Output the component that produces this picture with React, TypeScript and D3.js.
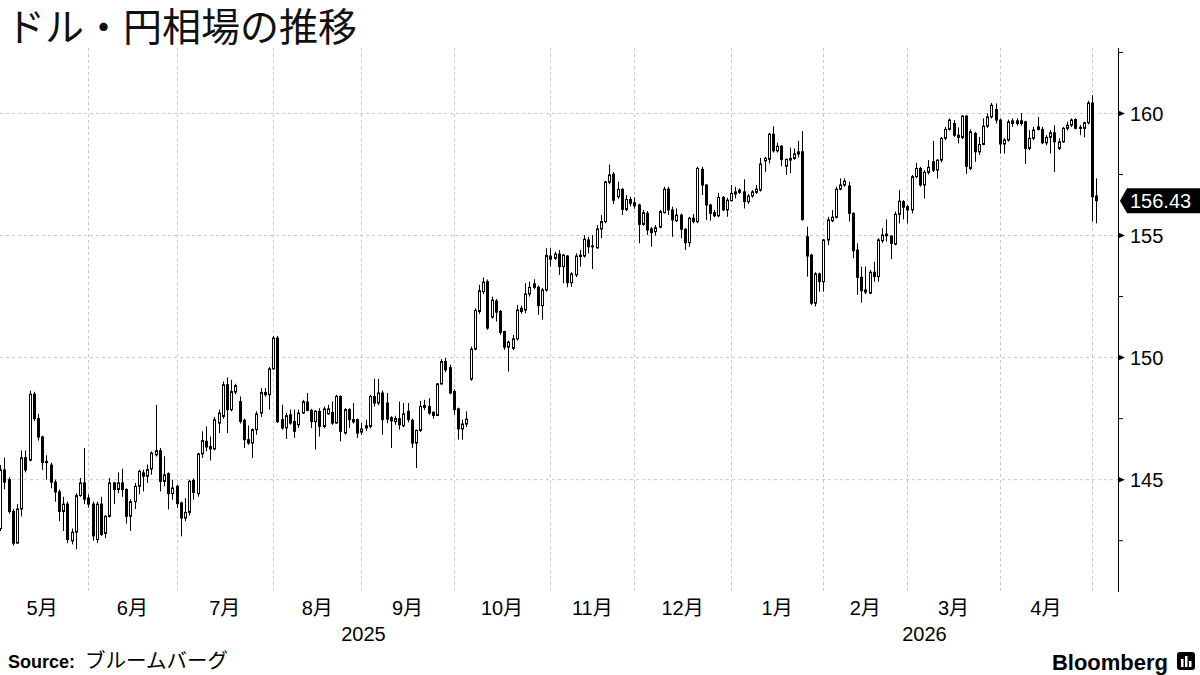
import React from "react";
import * as d3 from "d3";

// one row per trading day: [open, high, low, close]
const may2025 = [
  [143.0, 145.6, 142.9, 145.4], [145.4, 145.9, 144.6, 144.9], [145.0, 145.1, 143.6, 143.7],
  [143.7, 143.8, 142.3, 142.4], [142.4, 144.0, 142.4, 143.8], [143.8, 146.2, 143.5, 145.9],
  [145.9, 146.2, 145.3, 145.4], [145.8, 148.65, 145.75, 148.5], [148.5, 148.6, 147.4, 147.5],
  [147.5, 147.7, 146.6, 146.75], [146.75, 146.8, 145.4, 145.7], [145.75, 146.0, 145.0, 145.7],
  [145.6, 145.7, 144.65, 144.9], [144.9, 145.0, 144.1, 144.5], [144.5, 144.6, 143.3, 143.7],
  [143.7, 144.3, 142.9, 144.0], [144.0, 144.1, 142.4, 142.55], [142.5, 143.0, 142.35, 142.85],
  [142.85, 144.45, 142.15, 144.35], [144.35, 145.07, 144.3, 144.87], [144.87, 146.3, 144.0, 144.2],
];
const jun2025 = [
  [144.25, 144.4, 143.85, 144.0], [144.0, 144.1, 142.5, 142.7], [142.55, 144.1, 142.4, 144.0],
  [144.0, 144.3, 142.7, 142.75], [142.8, 143.55, 142.6, 143.5], [143.5, 145.07, 143.45, 144.87],
  [144.87, 144.9, 144.0, 144.6], [144.6, 145.3, 144.45, 144.87], [144.87, 145.45, 144.3, 144.6],
  [144.6, 144.65, 143.2, 143.5], [143.5, 144.2, 142.9, 144.1], [144.1, 144.87, 143.8, 144.73],
  [144.73, 145.41, 144.4, 145.34], [145.28, 145.41, 144.52, 145.14], [145.14, 145.62, 144.87, 145.41],
  [145.44, 146.16, 145.2, 146.09], [146.02, 148.07, 145.95, 146.19], [146.19, 146.3, 144.52, 144.93],
  [144.93, 145.96, 144.73, 145.2], [145.25, 145.3, 143.78, 144.43], [144.43, 145.0, 144.18, 144.66],
];
const jul2025 = [
  [144.73, 144.8, 143.84, 144.02], [144.05, 144.1, 142.68, 143.43], [143.43, 144.25, 143.3, 143.66],
  [143.66, 145.0, 143.53, 144.93], [144.97, 145.05, 144.18, 144.48], [144.43, 146.1, 144.3, 146.06],
  [146.06, 146.98, 145.89, 146.6], [146.57, 147.18, 146.16, 146.34], [146.36, 146.77, 145.79, 146.26],
  [146.26, 147.57, 146.2, 147.46], [147.32, 147.87, 146.91, 147.73], [147.59, 149.02, 147.5, 148.89],
  [148.89, 149.19, 146.91, 147.87], [147.87, 149.09, 147.8, 148.61], [148.59, 148.93, 148.5, 148.85],
  [148.2, 148.41, 147.3, 147.38], [147.43, 147.5, 146.3, 146.64], [146.64, 147.22, 146.43, 146.5],
  [146.5, 147.1, 145.89, 147.05], [147.05, 147.8, 146.84, 147.69], [147.73, 148.75, 147.57, 148.57],
  [148.57, 148.75, 148.4, 148.48], [148.48, 149.61, 147.87, 149.54],
];
const aug2025 = [
  [149.54, 150.89, 149.5, 150.8], [150.8, 150.89, 147.32, 147.38], [147.46, 148.07, 147.05, 147.12],
  [147.12, 147.73, 146.67, 147.62], [147.66, 147.87, 147.25, 147.32], [147.38, 147.87, 146.71, 146.98],
  [147.25, 147.87, 147.12, 147.73], [147.73, 148.27, 147.7, 148.2], [148.18, 148.55, 147.8, 147.84],
  [147.84, 147.9, 147.12, 147.38], [147.38, 147.85, 146.23, 147.8], [147.8, 147.93, 146.77, 147.18],
  [147.18, 148.0, 147.1, 147.9], [147.7, 148.07, 147.65, 147.9], [147.76, 148.2, 147.25, 147.32],
  [147.32, 148.48, 147.3, 148.41], [148.41, 148.45, 146.57, 146.98], [146.91, 147.93, 146.85, 147.87],
  [147.87, 147.93, 147.12, 147.46], [147.46, 148.14, 147.3, 147.37], [147.46, 147.5, 146.71, 146.91],
];
const sep2025 = [
  [146.95, 147.32, 146.84, 147.08], [147.12, 147.46, 147.0, 147.21], [147.18, 148.48, 147.1, 148.41],
  [148.41, 149.13, 148.0, 148.14], [148.14, 149.13, 148.05, 148.55], [148.55, 148.65, 146.84, 147.46],
  [148.14, 148.55, 147.32, 147.48], [147.55, 147.6, 146.3, 147.41], [147.38, 147.62, 147.25, 147.5],
  [147.5, 148.2, 147.05, 147.25], [147.21, 148.14, 147.15, 147.7], [147.8, 148.14, 147.35, 147.46],
  [147.43, 147.5, 146.3, 146.5], [146.5, 147.05, 145.48, 147.02], [147.02, 148.23, 146.95, 148.0],
  [147.96, 148.27, 147.85, 148.04], [148.0, 148.34, 147.66, 147.73], [147.76, 147.8, 147.5, 147.63],
  [147.63, 148.96, 147.6, 148.92], [148.92, 149.94, 148.9, 149.84], [149.84, 149.98, 149.4, 149.5],
  [149.59, 149.71, 148.5, 148.55],
];
const oct2025 = [
  [148.61, 148.7, 147.66, 147.87], [147.9, 147.95, 146.64, 147.08], [147.08, 147.46, 146.64, 147.28],
  [147.28, 147.8, 147.16, 147.48], [149.12, 150.45, 149.05, 150.35], [150.35, 152.02, 150.3, 151.93],
  [151.89, 152.98, 151.79, 152.74], [152.7, 153.28, 152.6, 153.09], [153.11, 153.2, 151.14, 151.21],
  [151.66, 152.5, 151.6, 152.36], [152.32, 152.4, 151.48, 151.86], [151.89, 151.95, 150.93, 151.03],
  [151.07, 151.1, 150.32, 150.43], [150.43, 150.7, 149.43, 150.63], [150.38, 150.93, 150.3, 150.77],
  [150.77, 152.16, 150.7, 151.95], [152.02, 152.13, 151.8, 151.89], [151.95, 153.05, 151.82, 152.61],
  [152.61, 153.11, 152.5, 152.88], [153.02, 153.21, 152.8, 152.88], [152.88, 152.95, 151.75, 152.13],
  [152.13, 152.85, 151.55, 152.77], [152.77, 154.48, 152.7, 154.18],
];
const nov2025 = [
  [154.16, 154.48, 153.73, 154.03], [154.07, 154.34, 154.0, 154.24], [154.24, 154.41, 153.39, 153.73],
  [153.73, 154.25, 153.05, 154.2], [154.16, 154.2, 152.88, 153.07], [153.07, 153.5, 152.9, 153.43],
  [153.39, 154.27, 153.3, 154.16], [154.2, 154.41, 153.73, 154.14], [154.16, 155.02, 154.1, 154.85],
  [154.82, 154.95, 154.27, 154.54], [154.58, 155.02, 153.63, 154.54], [154.5, 155.43, 154.45, 155.27],
  [155.27, 155.84, 154.89, 155.57], [155.57, 157.24, 155.5, 157.2], [157.18, 157.91, 157.1, 157.48],
  [157.51, 157.6, 156.29, 156.45], [156.59, 157.2, 156.5, 156.89], [156.89, 156.95, 155.84, 156.07],
  [156.07, 156.66, 156.0, 156.48], [156.48, 156.59, 156.2, 156.32],
];
const dec2025 = [
  [156.34, 156.56, 156.1, 156.22], [156.25, 156.3, 154.68, 155.46], [155.46, 156.05, 155.4, 155.94],
  [155.91, 156.0, 155.02, 155.23], [155.27, 155.35, 154.54, 155.12], [155.16, 155.43, 155.0, 155.32],
  [155.34, 156.05, 155.3, 155.98], [155.94, 157.0, 155.9, 156.9], [156.9, 157.0, 155.84, 156.05],
  [156.05, 156.18, 154.95, 155.64], [155.61, 156.11, 155.55, 155.84], [155.84, 155.9, 154.89, 155.26],
  [155.26, 155.3, 154.41, 154.71], [154.71, 155.77, 154.54, 155.71], [155.71, 155.88, 155.5, 155.57],
  [155.57, 157.82, 155.5, 157.75], [157.71, 157.82, 156.66, 157.07], [157.07, 157.1, 155.64, 156.25],
  [156.25, 156.3, 155.61, 155.91], [155.94, 156.05, 155.75, 155.81], [155.81, 156.75, 155.75, 156.56],
  [156.56, 156.62, 156.0, 156.05], [156.05, 156.55, 155.77, 156.45],
];
const jan2026 = [
  [156.43, 157.07, 156.4, 156.73], [156.7, 157.0, 156.52, 156.79], [156.77, 156.93, 156.7, 156.86],
  [156.79, 157.3, 156.11, 156.39], [156.39, 156.7, 156.3, 156.62], [156.62, 156.86, 156.55, 156.79],
  [156.77, 157.07, 156.7, 156.9], [156.86, 158.18, 156.8, 157.93], [158.06, 158.23, 157.61, 158.16],
  [158.12, 159.21, 157.95, 159.15], [159.15, 159.48, 158.4, 158.47], [158.47, 158.8, 158.4, 158.66],
  [158.66, 158.7, 157.84, 158.12], [157.84, 158.15, 157.48, 158.12], [158.09, 158.6, 157.55, 158.16],
  [158.16, 158.57, 158.1, 158.34], [158.34, 158.88, 158.2, 158.43], [158.43, 159.28, 155.61, 155.66],
  [154.95, 155.36, 153.32, 154.16], [154.2, 154.25, 152.16, 152.23], [152.23, 153.5, 152.09, 153.43],
  [153.43, 153.48, 152.7, 153.11],
];
const feb2026 = [
  [153.11, 154.86, 152.7, 154.82], [154.82, 155.77, 154.61, 155.64], [155.61, 156.05, 155.55, 155.75],
  [155.75, 157.0, 155.7, 156.9], [156.9, 157.34, 156.85, 157.07], [157.07, 157.34, 157.0, 157.23],
  [157.03, 157.2, 155.57, 155.91], [155.91, 155.95, 154.07, 154.38], [154.41, 154.68, 152.57, 153.29],
  [153.29, 153.73, 152.25, 152.74], [152.68, 153.73, 152.6, 152.77], [152.64, 153.59, 152.6, 153.5],
  [153.5, 153.93, 153.11, 153.32], [153.32, 154.89, 153.11, 154.82], [154.79, 155.3, 154.7, 155.02],
  [155.06, 155.66, 154.75, 154.99], [154.98, 155.0, 154.03, 154.68], [154.65, 155.98, 154.6, 155.87],
  [155.87, 156.86, 155.5, 156.41], [156.39, 156.45, 155.66, 156.16],
];
const mar2026 = [
  [156.18, 156.25, 155.5, 156.05], [156.05, 157.48, 155.91, 157.41], [157.41, 157.98, 157.35, 157.75],
  [157.75, 157.82, 157.0, 157.07], [157.07, 157.68, 156.52, 157.59], [157.59, 158.09, 157.5, 157.79],
  [158.02, 158.88, 157.6, 157.68], [157.68, 158.12, 157.34, 158.09], [158.09, 159.04, 158.0, 158.98],
  [158.98, 159.45, 158.9, 159.35], [159.35, 159.8, 159.3, 159.73], [159.59, 159.73, 159.04, 159.11],
  [159.11, 159.43, 158.77, 159.02], [159.02, 159.93, 158.95, 159.89], [159.89, 159.93, 157.52, 157.84],
  [157.75, 159.35, 157.68, 159.25], [159.18, 159.25, 158.02, 158.43], [158.43, 159.04, 158.3, 158.73],
  [158.73, 159.8, 158.7, 159.48], [159.48, 160.0, 159.4, 159.86], [159.86, 160.43, 159.8, 160.34],
  [160.16, 160.41, 159.59, 159.73],
];
const apr2026 = [
  [159.73, 159.8, 158.36, 158.75], [158.75, 159.0, 158.36, 158.91], [158.91, 159.75, 158.85, 159.66],
  [159.59, 159.8, 159.45, 159.7], [159.59, 159.8, 159.5, 159.7], [159.7, 160.02, 159.5, 159.59],
  [159.66, 159.7, 157.93, 158.57], [158.57, 159.32, 158.5, 158.98], [158.98, 159.45, 158.9, 159.32],
  [159.35, 159.86, 159.3, 159.45], [159.35, 159.45, 158.75, 158.8], [158.8, 159.11, 158.7, 159.02],
  [159.02, 159.32, 158.36, 159.21], [159.21, 159.52, 157.61, 158.84], [158.57, 158.98, 158.5, 158.84],
  [158.84, 159.45, 158.8, 159.39], [159.39, 159.66, 159.3, 159.52], [159.52, 159.8, 159.45, 159.73],
  [159.75, 159.8, 159.35, 159.39], [159.43, 159.52, 159.11, 159.39], [159.39, 159.66, 159.02, 159.62],
  [159.62, 160.52, 159.55, 160.43],
];
const may2026 = [
  [160.43, 160.75, 155.57, 156.59], [156.62, 157.34, 155.5, 156.43],
];

// first calendar day each block starts from
const blocks: [string, number[][]][] = [
  ["2025-05-02", may2025], ["2025-06-01", jun2025], ["2025-07-01", jul2025],
  ["2025-08-01", aug2025], ["2025-09-01", sep2025], ["2025-10-01", oct2025],
  ["2025-11-01", nov2025], ["2025-12-01", dec2025], ["2026-01-01", jan2026],
  ["2026-02-01", feb2026], ["2026-03-01", mar2026], ["2026-04-01", apr2026],
  ["2026-05-01", may2026],
];

const yTicks = [145, 150, 155, 160];
const yMinorTicks = [142.5, 147.5, 152.5, 157.5, 162.5];

const W = 1200;
const H = 675;
const plotTop = 48;
const plotBottom = 592;
const axisX = 1118;
const step = 4.2;

const parse = d3.timeParse("%Y-%m-%d");
const fmt = d3.timeFormat("%Y-%m-%d");
const isWeekday = (d: Date) => d.getDay() !== 0 && d.getDay() !== 6;

// every weekday on the time axis (May 2025 .. May 2026)
const axisDays = d3.timeDay
  .range(new Date(2025, 4, 1), new Date(2026, 5, 1))
  .filter(isWeekday);
const axisKeys = axisDays.map(fmt);

const candles = blocks.flatMap(([start, rows]) => {
  const days = d3.timeDay
    .range(parse(start)!, d3.timeMonth.offset(parse(start)!, 2))
    .filter(isWeekday);
  return rows.map((r, i) => ({
    key: fmt(days[i]),
    open: r[0],
    high: r[1],
    low: r[2],
    close: r[3],
  }));
});

const cjk = "'Liberation Sans', 'Noto Sans CJK JP', sans-serif";

export default function App() {
  const x = d3
    .scaleBand<string>()
    .domain(axisKeys)
    .range([-6.2, -6.2 + axisKeys.length * step])
    .padding(0);
  const y = d3.scaleLinear().domain([140.4, 162.6]).range([plotBottom, 50]);
  const cx = (k: string) => (x(k) ?? 0) + x.bandwidth() / 2;

  // first trading day of each month
  const monthFirsts = d3
    .timeMonth.range(new Date(2025, 4, 1), new Date(2026, 5, 1))
    .map((m) => axisDays.find((d) => d >= m)!);
  const months = monthFirsts.slice(0, -1).map((d, i) => ({
    label: `${d.getMonth() + 1}月`,
    x: (cx(fmt(d)) + cx(fmt(monthFirsts[i + 1]))) / 2,
  }));
  const gridDays = monthFirsts.filter((d) => {
    const p = cx(fmt(d));
    return p > 0 && p < axisX;
  });
  const jan = monthFirsts.find((d) => d.getFullYear() === 2026)!;
  const years = [
    { label: "2025", x: (cx(fmt(monthFirsts[0])) + cx(fmt(jan))) / 2 },
    { label: "2026", x: (cx(fmt(jan)) + axisX) / 2 },
  ];

  const last = candles[candles.length - 1];
  const lastY = y(last.close);

  return (
    <div style={{ position: "fixed", left: 0, top: 0 }}>
      <svg width={W} height={H} style={{ display: "block", background: "#fff" }}>
        <defs>
          <clipPath id="plot">
            <rect x={0} y={0} width={axisX} height={plotBottom} />
          </clipPath>
        </defs>

        <text x={6} y={41} fontSize={39} fontFamily="'Noto Sans CJK JP', sans-serif" fill="#111">
          ドル・円相場の推移
        </text>

        {/* grid */}
        {yTicks.map((t) => (
          <line key={`h${t}`} x1={0} x2={axisX} y1={y(t)} y2={y(t)} stroke="#c8c8c8" strokeDasharray="3,3" />
        ))}
        {gridDays.map((d) => (
          <line
            key={`v${fmt(d)}`}
            x1={Math.round(cx(fmt(d))) + 0.5}
            x2={Math.round(cx(fmt(d))) + 0.5}
            y1={plotTop}
            y2={plotBottom}
            stroke="#c8c8c8"
            strokeDasharray="3,3"
          />
        ))}

        {/* candles */}
        <g clipPath="url(#plot)">
          {candles.map((c) => {
            const px = Math.round(cx(c.key));
            const up = c.close >= c.open;
            const top = y(Math.max(c.open, c.close));
            const bot = y(Math.min(c.open, c.close));
            return (
              <g key={c.key}>
                <line x1={px + 0.5} x2={px + 0.5} y1={y(c.high)} y2={y(c.low)} stroke="#000" />
                <rect
                  x={px - 0.5}
                  y={top}
                  width={2}
                  height={Math.max(bot - top, 1)}
                  fill={up ? "#fff" : "#000"}
                  stroke="#000"
                />
              </g>
            );
          })}
        </g>

        {/* right axis */}
        <line x1={axisX + 0.5} x2={axisX + 0.5} y1={plotTop} y2={plotBottom} stroke="#000" />
        {yMinorTicks.map((t) => (
          <line key={`m${t}`} x1={axisX} x2={axisX + 5} y1={y(t)} y2={y(t)} stroke="#000" />
        ))}
        {yTicks.map((t) => (
          <g key={`t${t}`}>
            <path d={`M${axisX},${y(t) - 3}L${axisX + 7},${y(t)}L${axisX},${y(t) + 3}Z`} fill="#000" />
            <text x={axisX + 12} y={y(t)} dy="0.36em" fontSize={20} fontFamily={cjk} fill="#000">
              {t}
            </text>
          </g>
        ))}

        {/* last price tag */}
        <path
          d={`M${axisX + 2},${lastY}L${axisX + 9},${lastY - 12.5}H${W}V${lastY + 12.5}H${axisX + 9}Z`}
          fill="#000"
        />
        <text x={axisX + 12} y={lastY} dy="0.36em" fontSize={20} fontFamily={cjk} fill="#fff">
          {last.close.toFixed(2)}
        </text>

        {/* x axis labels */}
        {months.map((m) => (
          <text key={m.label} x={m.x} y={608} dy="0.36em" textAnchor="middle" fontSize={20} fontFamily={cjk} fill="#000">
            {m.label}
          </text>
        ))}
        {years.map((yr) => (
          <text key={yr.label} x={yr.x} y={634} dy="0.36em" textAnchor="middle" fontSize={20} fontFamily={cjk} fill="#000">
            {yr.label}
          </text>
        ))}

        {/* footer */}
        <text x={8} y={668} fontSize={18} fontFamily={cjk} fill="#000">
          <tspan fontWeight="bold">Source:</tspan>
          <tspan dx={10} fontSize={20.5}>ブルームバーグ</tspan>
        </text>
        <text x={1168} y={670} textAnchor="end" fontSize={22} fontWeight="bold" fontFamily="'Liberation Sans', Arial, sans-serif" fill="#000">
          Bloomberg
        </text>
        <rect x={1177} y={652} width={18} height={18} rx={3} fill="#000" />
        <rect x={1181} y={659} width={2.5} height={8} fill="#fff" />
        <rect x={1185} y={656} width={2.5} height={11} fill="#fff" />
        <rect x={1189} y={661} width={2.5} height={6} fill="#fff" />
      </svg>
    </div>
  );
}
